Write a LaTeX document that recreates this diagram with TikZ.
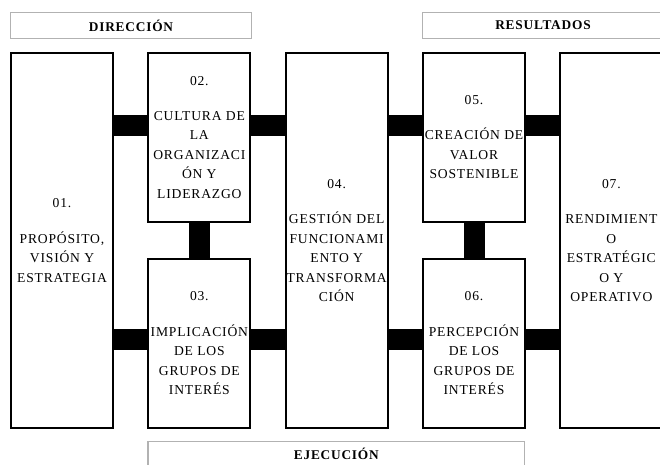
\documentclass[tikz,border=0pt]{standalone}
\usepackage{fontspec}
\setmainfont{Liberation Serif}[LetterSpace=6]
\usetikzlibrary{positioning,calc}
\begin{document}
\begin{tikzpicture}[every node/.style={align=center,font=\fontsize{10.2}{14.6}\selectfont},
box/.style={draw,fill=white,line width=1.5pt,minimum width=76.5pt,inner sep=0pt},
tall/.style={box,minimum height=281.25pt},short/.style={box,minimum height=126.4pt},
hdr/.style={draw=gray!60,line width=1.1pt,minimum height=19.2pt,inner sep=0pt,font=\fontsize{10}{11}\selectfont\bfseries},
bar/.style={line width=15.75pt}]
\useasboundingbox (0,0) rectangle (495pt,-348pt);
\node[tall,anchor=north west] (e01) at (7.5pt,-39pt) {01.\\[12pt]PROPÓSITO,\\VISIÓN Y\\ESTRATEGIA};
\node[short,right=25pt of e01.north east,anchor=north west] (e02) {02.\\[12pt]CULTURA DE\\LA\\ORGANIZACI\\ÓN Y\\LIDERAZGO};
\node[short,below=26.6pt of e02] (e03) {03.\\[12pt]IMPLICACIÓN\\DE LOS\\GRUPOS DE\\INTERÉS};
\node[tall,right=25pt of e02.north east,anchor=north west] (e04) {04.\\[12pt]GESTIÓN DEL\\FUNCIONAMI\\ENTO Y\\TRANSFORMA\\CIÓN};
\node[short,right=25pt of e04.north east,anchor=north west] (e05) {05.\\[12pt]CREACIÓN DE\\VALOR\\SOSTENIBLE};
\node[short,below=26.6pt of e05] (e06) {06.\\[12pt]PERCEPCIÓN\\DE LOS\\GRUPOS DE\\INTERÉS};
\node[tall,right=25pt of e05.north east,anchor=north west] (e07) {07.\\[12pt]RENDIMIENT\\O\\ESTRATÉGIC\\O Y\\OPERATIVO};
\node[hdr,minimum width=180.4pt,above=9.75pt of e01.north west,anchor=south west] (dir) {DIRECCIÓN};
\node[hdr,minimum width=180.4pt,above=9.75pt of e05.north west,anchor=south west] (res) {RESULTADOS};
\node[hdr,minimum width=282.4pt,below=9pt of e03.south west,anchor=north west] (eje) {EJECUCIÓN};
\coordinate (hi) at ($(e02.north)+(0,-55.1pt)$);
\coordinate (lo) at ($(e03.north)+(0,-60.75pt)$);
\draw[bar] (e01.east |- hi)--(e02.west |- hi);\draw[bar] (e02.east |- hi)--(e04.west |- hi);
\draw[bar] (e04.east |- hi)--(e05.west |- hi);\draw[bar] (e05.east |- hi)--(e07.west |- hi);
\draw[bar] (e01.east |- lo)--(e03.west |- lo);\draw[bar] (e03.east |- lo)--(e04.west |- lo);
\draw[bar] (e04.east |- lo)--(e06.west |- lo);\draw[bar] (e06.east |- lo)--(e07.west |- lo);
\draw[bar] (e02.south)--(e03.north);\draw[bar] (e05.south)--(e06.north);
\end{tikzpicture}
\end{document}
